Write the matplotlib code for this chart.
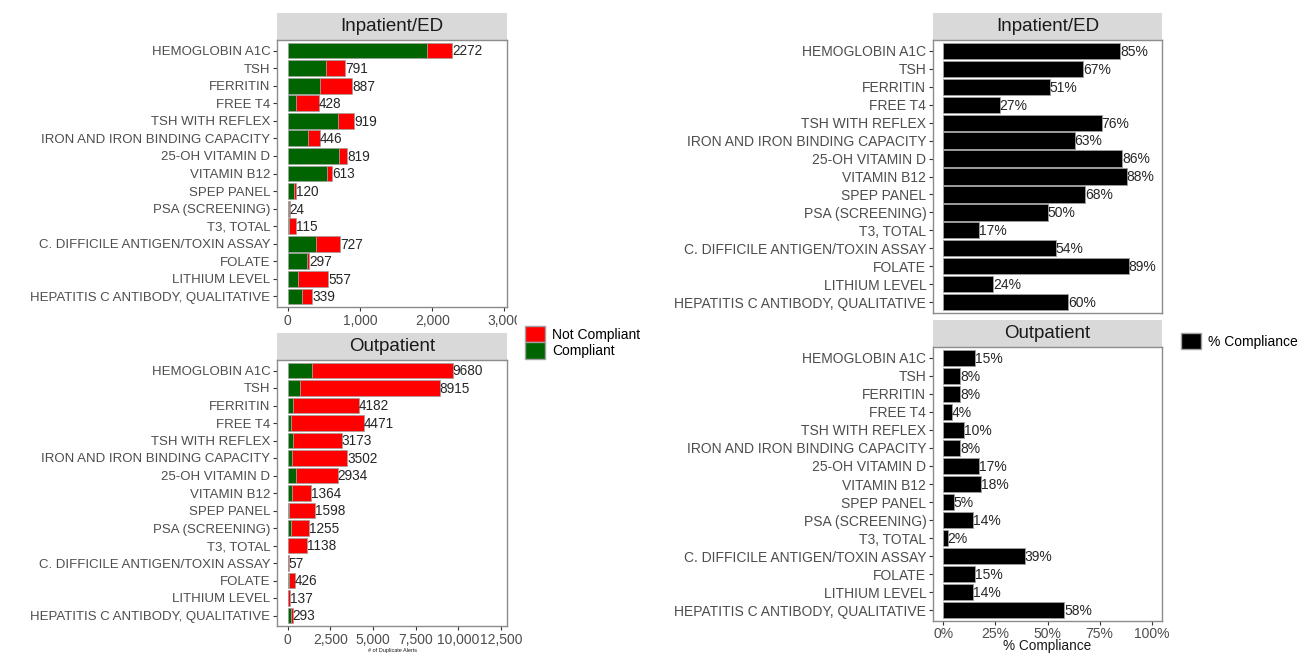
"""Duplicate lab alerts by test: alert counts (compliant vs not) and % compliance,
split into Inpatient/ED and Outpatient facets."""
import matplotlib
matplotlib.use("Agg")
import matplotlib.pyplot as plt
from matplotlib.patches import Patch, Rectangle
from matplotlib.ticker import FuncFormatter

plt.rcParams["font.family"] = ["Liberation Sans", "DejaVu Sans"]

TESTS = ["HEMOGLOBIN A1C", "TSH", "FERRITIN", "FREE T4", "TSH WITH REFLEX",
         "IRON AND IRON BINDING CAPACITY", "25-OH VITAMIN D", "VITAMIN B12",
         "SPEP PANEL", "PSA (SCREENING)", "T3, TOTAL",
         "C. DIFFICILE ANTIGEN/TOXIN ASSAY", "FOLATE", "LITHIUM LEVEL",
         "HEPATITIS C ANTIBODY, QUALITATIVE"]

inpt_total = [2272, 791, 887, 428, 919, 446, 819, 613, 120, 24, 115, 727, 297, 557, 339]
inpt_compliant = [1931, 530, 452, 116, 698, 281, 704, 539, 82, 12, 20, 393, 264, 134, 203]
inpt_pct = [85, 67, 51, 27, 76, 63, 86, 88, 68, 50, 17, 54, 89, 24, 60]

outpt_total = [9680, 8915, 4182, 4471, 3173, 3502, 2934, 1364, 1598, 1255, 1138, 57, 426, 137, 293]
outpt_compliant = [1452, 713, 335, 179, 317, 280, 499, 246, 80, 176, 23, 22, 64, 19, 170]
outpt_pct = [15, 8, 8, 4, 10, 8, 17, 18, 5, 14, 2, 39, 15, 14, 58]

W, H = 1302, 654
GREEN, RED = "#006400", "#FF0000"
TXT = "#4D4D4D"


def px_axes(fig, x0, x1, y0, y1):
    """Axes from pixel box (top-left origin)."""
    return fig.add_axes([x0 / W, 1 - y1 / H, (x1 - x0) / W, (y1 - y0) / H])


def style(ax, title, strip_px, panel_px, fs):
    for s in ax.spines.values():
        s.set_color("#8C8C8C")
        s.set_linewidth(1.0)
    ax.set_yticks(range(len(TESTS)))
    ax.set_yticklabels(TESTS)
    ax.set_ylim(len(TESTS) - 0.4, -0.6)
    ax.tick_params(axis="both", length=2.8, width=0.8, color="#333333",
                   labelcolor=TXT, labelsize=10, pad=2)
    ax.tick_params(axis="y", labelsize=fs)
    h = strip_px / panel_px
    ax.add_patch(Rectangle((0, 1), 1, h, transform=ax.transAxes, clip_on=False,
                           facecolor="#D9D9D9", edgecolor="none"))
    ax.text(0.5, 1 + h / 2, title, transform=ax.transAxes, ha="center",
            va="center", fontsize=13.5, color="#1A1A1A")


def count_panel(ax, total, compliant, xlim):
    y = list(range(len(TESTS)))
    not_comp = [t - c for t, c in zip(total, compliant)]
    ax.barh(y, compliant, height=0.9, color=GREEN, edgecolor="#A0A0A0", linewidth=0.5)
    ax.barh(y, not_comp, left=compliant, height=0.9, color=RED,
            edgecolor="#A0A0A0", linewidth=0.5)
    for yi, t in zip(y, total):
        ax.text(t, yi + 0.05, str(t), ha="left", va="center", fontsize=9.8,
                color="#262626")
    ax.set_xlim(*xlim)
    ax.xaxis.set_major_formatter(FuncFormatter(lambda v, _: f"{v:,.0f}"))


def pct_panel(ax, pct):
    y = list(range(len(TESTS)))
    frac = [p / 100 for p in pct]
    ax.barh(y, frac, height=0.9, color="black", edgecolor="#A0A0A0", linewidth=0.6)
    for yi, f, p in zip(y, frac, pct):
        ax.text(f, yi + 0.05, f"{p}%", ha="left", va="center", fontsize=10,
                color="#262626")
    ax.set_xlim(-0.05, 1.05)
    ax.set_xticks([0, 0.25, 0.5, 0.75, 1.0])
    ax.set_xticklabels(["0%", "25%", "50%", "75%", "100%"])


fig = plt.figure(figsize=(W / 100, H / 100), dpi=100)

# left: alert counts
ax1 = px_axes(fig, 277, 507, 40, 307)
count_panel(ax1, inpt_total, inpt_compliant, (-150, 3035))
ax1.set_xticks([0, 1000, 2000, 3000])
style(ax1, "Inpatient/ED", 27, 267, 9.5)

ax2 = px_axes(fig, 277, 507, 360, 626)
count_panel(ax2, outpt_total, outpt_compliant, (-628, 12860))
ax2.set_xticks([0, 2500, 5000, 7500, 10000, 12500])
ax2.set_xlabel("# of Duplicate Alerts", fontsize=4, color="#1A1A1A", labelpad=1)
style(ax2, "Outpatient", 27, 266, 9.5)

# right: % compliance (shared x, labelled on the bottom panel only)
ax3 = px_axes(fig, 933, 1162, 40, 313)
pct_panel(ax3, inpt_pct)
style(ax3, "Inpatient/ED", 27, 273, 10)
ax3.tick_params(axis="x", length=0, labelbottom=False)

ax4 = px_axes(fig, 933, 1162, 347, 621)
pct_panel(ax4, outpt_pct)
style(ax4, "Outpatient", 27, 274, 10)
ax4.tick_params(axis="x", pad=1.5)
ax4.set_xlabel("% Compliance", fontsize=9.8, color="#1A1A1A", labelpad=-1.5)

# white legend background overlapping the end of the top count axis
fig.add_artist(Rectangle((517 / W, 1 - 330 / H), 90 / W, 22 / H,
                         transform=fig.transFigure, facecolor="white",
                         edgecolor="none", zorder=5))

leg_kw = dict(frameon=False, fontsize=10, handlelength=1.45, handleheight=1.45,
              labelspacing=0, handletextpad=0.5, borderpad=0, borderaxespad=0)
leg1 = fig.legend([Patch(facecolor=RED, edgecolor="#A0A0A0"),
                   Patch(facecolor=GREEN, edgecolor="#A0A0A0")],
                  ["Not Compliant", "Compliant"], loc="upper left",
                  bbox_to_anchor=(525 / W, 1 - 326 / H), **leg_kw)
leg2 = fig.legend([Patch(facecolor="black", edgecolor="#A0A0A0")], ["% Compliance"],
                  loc="upper left", bbox_to_anchor=(1181 / W, 1 - 333 / H), **leg_kw)
leg1.set_zorder(6)
leg2.set_zorder(6)

fig.savefig("out.png", dpi=100, facecolor="white")
